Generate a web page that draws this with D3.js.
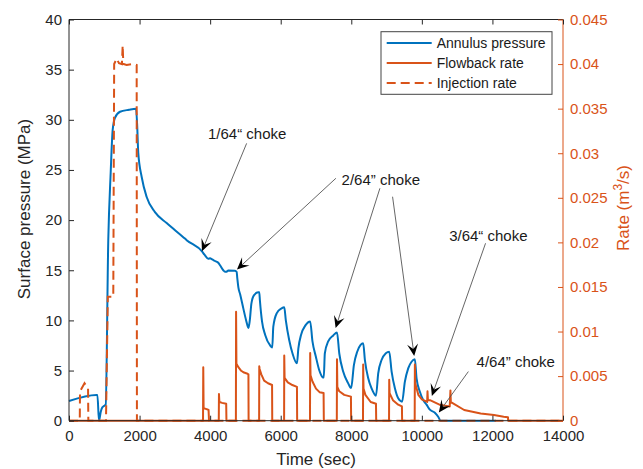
<!DOCTYPE html>
<html>
<head>
<meta charset="utf-8">
<script src="https://cdn.jsdelivr.net/npm/d3@7"></script>
<style>
  html, body { margin: 0; padding: 0; background: #fff; }
  svg { display: block; font-family: "Liberation Sans", Arial, Helvetica, sans-serif; }
</style>
</head>
<body>
<svg id="chart" width="643" height="469"></svg>
<script>
// ---- data: [time (s), value] ----
const annulusPressure = [
  [0,1.96],[780,2.56],[805,2.56],[850,0],[900,0.9],[945,1.33],[990,1.47],[1040,1.6],
  [1113,18],[1181,24.7],[1238,29],[1303,30.2],[1445,30.8],[1700,31.0],[1900,31.1],
  [1930,29.6],[1963,26.7],[2060,24.3],[2201,22.3],[2436,20.8],[2768,19.7],[3238,18.3],
  [3334,18.0],[3776,16.85],[3850,16.5],[3947,16.15],[4000,16.2],[4043,16.1],[4150,15.9],
  [4230,15.75],[4280,15.5],[4372,15.0],[4420,14.85],[4467,14.86],[4514,14.98],[4703,14.96],
  [4751,14.85],[4770,14.2],[4800,13.3],[4850,12.6],[4940,11.2],[5020,10.0],[5085,9.25],
  [5120,9.9],[5170,11.7],[5240,12.5],[5360,12.8],[5392,12.8],
  [5410,12.0],[5470,9.9],[5560,8.55],[5700,7.5],[5760,7.3],
  [5790,9.37],[5885,10.7],[6025,11.2],[6100,11.3],
  [6145,10.0],[6240,8.05],[6335,6.7],[6460,5.72],
  [6500,7.2],[6580,8.6],[6700,9.5],[6835,9.9],
  [6900,7.9],[6995,6.4],[7090,5.05],[7190,4.33],[7220,4.3],
  [7250,6.7],[7345,7.9],[7490,8.5],[7595,8.8],
  [7660,6.7],[7770,4.9],[7910,3.75],[7995,3.25],
  [8074,5.55],[8168,6.88],[8264,7.55],[8337,7.72],
  [8386,6.05],[8480,4.23],[8575,3.23],[8700,2.5],
  [8763,4.73],[8858,6.05],[8980,6.72],[9075,6.88],
  [9143,4.89],[9236,3.23],[9330,2.23],[9440,1.9],
  [9519,3.89],[9613,5.22],[9708,5.88],[9802,6.12],
  [9850,4.23],[9944,2.89],[10038,2.06],[10133,1.6],[10227,1.1],[10369,0.8],[10463,0.4],
  [10530,0],[12100,0]
];

const flowbackRate = [
  [0,0],[3798,0],[3805,0.0060],[3815,0.0014],[3900,0.0013],[3955,0.0012],[3968,0],
  [4245,0],[4250,0.0030],[4262,0.0021],[4340,0.0020],[4455,0.0019],[4462,0],
  [4730,0],[4735,0.01223],[4745,0.0064],[4800,0.0060],[4880,0.0056],[4960,0.0054],[5040,0.0053],[5085,0.0052],[5090,0],
  [5388,0],[5392,0.0061],[5402,0.0058],[5450,0.0052],[5530,0.0045],[5640,0.0042],[5755,0.0040],[5760,0],
  [6096,0],[6100,0.0073],[6110,0.0048],[6200,0.0043],[6330,0.0040],[6460,0.0038],[6466,0],
  [6830,0],[6835,0.0076],[6845,0.0051],[6900,0.0044],[7000,0.0036],[7100,0.0032],[7215,0.0031],[7222,0],
  [7590,0],[7595,0.0069],[7605,0.0038],[7660,0.0033],[7800,0.0029],[7990,0.0027],[7996,0],
  [8332,0],[8337,0.0063],[8347,0.0036],[8400,0.0029],[8550,0.0021],[8700,0.0019],[8706,0],
  [9070,0],[9075,0.0046],[9085,0.0031],[9180,0.0023],[9330,0.0018],[9435,0.0016],[9441,0],
  [9797,0],[9802,0.0063],[9812,0.0042],[9900,0.0029],[10000,0.0024],[10150,0.0021],
  [10160,0.0033],[10172,0.0023],[10230,0.0023],[10500,0.0018],[10790,0.0016],
  [10810,0.0034],[10822,0.0020],[10860,0.0020],[11200,0.0012],[11667,0.0008],
  [12044,0.00064],[12320,0.00045],[12440,0.0004],[12446,0],[14000,0]
];

const injectionRate = [
  [0,0],[305,0],[312,0.0033],[440,0.0042],[540,0.0036],[548,0],
  [1048,0],[1100,0.0139],[1255,0.0139],[1280,0.0400],[1350,0.0406],[1416,0.0401],
  [1500,0.0400],[1521,0.0421],[1540,0.0400],[1634,0.0399],[1775,0.0400],[1918,0.0399],
  [1925,0],[14000,0]
];

const timeTicks = [0,2000,4000,6000,8000,10000,12000,14000];
const pressureTicks = [0,5,10,15,20,25,30,35,40];
const rateTicks = [0,0.005,0.01,0.015,0.02,0.025,0.03,0.035,0.04,0.045];

const seriesNames = ["Annulus pressure","Flowback rate","Injection rate"];

// choke annotations: label anchor and arrows (tail -> tip) in (time, pressure)
const chokeLabels = ["1/64\u201C choke","2/64\u201D choke","3/64\u201C choke","4/64\u201D choke"];
const chokeLabelPos = [[3938,28.6],[7726,24.0],[10774,18.4],[11550,5.85]];
const chokeArrows = [
  [[5034,27.65],[3768,16.9]],
  [[7564,24.17],[4760,15.07]],
  [[8811,23.17],[7556,9.24]],
  [[9170,22.33],[9783,6.45]],
  [[11805,17.69],[10284,2.46]],
  [[11318,4.9],[10482,0.82]]
];

// ---- layout ----
const blue = "#0072BD", orange = "#D95319", axisColor = "#262626";
const svg = d3.select("#chart");
const plotLeft = 69, plotRight = 563, plotTop = 19.5, plotBottom = 420.7;

const x = d3.scaleLinear().domain([0,14000]).range([plotLeft,plotRight]);
const yP = d3.scaleLinear().domain([0,40]).range([plotBottom,plotTop]);
const yR = d3.scaleLinear().domain([0,0.045]).range([plotBottom,plotTop]);

const plot = svg.append("g");

const linePressure = d3.line().x(d => x(d[0])).y(d => yP(d[1])).curve(d3.curveMonotoneX);
const lineRate = d3.line().x(d => x(d[0])).y(d => yR(d[1]));

plot.append("path").datum(annulusPressure)
  .attr("d", linePressure).attr("fill","none")
  .attr("stroke", blue).attr("stroke-width",2).attr("stroke-linejoin","round");

plot.append("path").datum(flowbackRate)
  .attr("d", lineRate).attr("fill","none")
  .attr("stroke", orange).attr("stroke-width",2).attr("stroke-linejoin","round");

plot.append("path").datum(injectionRate)
  .attr("d", lineRate).attr("fill","none")
  .attr("stroke", orange).attr("stroke-width",2).attr("stroke-dasharray","9,5");

// ---- axes ----
const fontTick = "15px";
function styleAxis(g, color) {
  g.select(".domain").remove();
  g.selectAll(".tick line").attr("stroke", color);
  g.selectAll(".tick text").attr("fill", color).style("font-size", fontTick)
    .attr("font-family", null);
}

// frame
svg.append("line").attr("x1",plotLeft).attr("x2",plotRight).attr("y1",plotTop).attr("y2",plotTop)
  .attr("stroke",axisColor).attr("stroke-width",1);
svg.append("line").attr("x1",plotLeft).attr("x2",plotRight).attr("y1",plotBottom).attr("y2",plotBottom)
  .attr("stroke",axisColor).attr("stroke-width",1);
svg.append("line").attr("x1",plotLeft).attr("x2",plotLeft).attr("y1",plotTop).attr("y2",plotBottom)
  .attr("stroke",axisColor).attr("stroke-width",1);
svg.append("line").attr("x1",plotRight).attr("x2",plotRight).attr("y1",plotTop).attr("y2",plotBottom)
  .attr("stroke",orange).attr("stroke-width",1);

const xAxis = svg.append("g").attr("transform",`translate(0,${plotBottom})`)
  .call(d3.axisBottom(x).tickValues(timeTicks).tickFormat(d3.format("d"))
    .tickSizeInner(-5).tickSizeOuter(0).tickPadding(10));
styleAxis(xAxis, axisColor);

const xTop = svg.append("g").attr("transform",`translate(0,${plotTop})`)
  .call(d3.axisTop(x).tickValues(timeTicks).tickFormat("").tickSizeInner(-5).tickSizeOuter(0));
styleAxis(xTop, axisColor);

const yAxisL = svg.append("g").attr("transform",`translate(${plotLeft},0)`)
  .call(d3.axisLeft(yP).tickValues(pressureTicks).tickFormat(d3.format("d"))
    .tickSizeInner(-5).tickSizeOuter(0).tickPadding(7));
styleAxis(yAxisL, axisColor);

const yAxisR = svg.append("g").attr("transform",`translate(${plotRight},0)`)
  .call(d3.axisRight(yR).tickValues(rateTicks).tickFormat(d => d === 0 ? "0" : String(+d.toFixed(3)))
    .tickSizeInner(-5).tickSizeOuter(0).tickPadding(7));
styleAxis(yAxisR, orange);

// axis titles
svg.append("text").attr("x", (plotLeft+plotRight)/2).attr("y", 465)
  .attr("text-anchor","middle").attr("fill",axisColor).style("font-size","17px")
  .text("Time (sec)");

svg.append("text").attr("transform","translate(30,209) rotate(-90)")
  .attr("text-anchor","middle").attr("fill",axisColor).style("font-size","17px")
  .text("Surface pressure (MPa)");

const rt = svg.append("text").attr("transform","translate(629,208) rotate(-90)")
  .attr("text-anchor","middle").attr("fill",orange).style("font-size","17px");
rt.append("tspan").text("Rate (m");
rt.append("tspan").attr("dy",-7).style("font-size","12px").text("3");
rt.append("tspan").attr("dy",7).text("/s)");

// ---- annotations ----
const ann = svg.append("g");
chokeArrows.forEach(([tail, tip]) => {
  const x1 = x(tail[0]), y1 = yP(tail[1]), x2 = x(tip[0]), y2 = yP(tip[1]);
  const ang = Math.atan2(y2 - y1, x2 - x1);
  const len = 12, half = 5.5, notch = 7;
  const ux = Math.cos(ang), uy = Math.sin(ang);
  const bx = x2 - ux*len, by = y2 - uy*len;
  const nx = x2 - ux*notch, ny = y2 - uy*notch;
  ann.append("line").attr("x1",x1).attr("y1",y1).attr("x2",nx).attr("y2",ny)
    .attr("stroke","#555").attr("stroke-width",0.9);
  ann.append("path")
    .attr("d",`M${x2},${y2}L${bx - uy*half},${by + ux*half}L${nx},${ny}L${bx + uy*half},${by - ux*half}Z`)
    .attr("fill","#000");
});
chokeLabels.forEach((lab, i) => {
  ann.append("text").attr("x", x(chokeLabelPos[i][0])).attr("y", yP(chokeLabelPos[i][1]))
    .attr("dy","0.35em").attr("fill","#1a1a1a").style("font-size","15px").text(lab);
});

// ---- legend ----
const leg = svg.append("g");
leg.append("rect").attr("x",381).attr("y",31.7).attr("width",171).attr("height",62.6)
  .attr("fill","#fff").attr("stroke","#444").attr("stroke-width",1);
const legStyles = [
  {c: blue, dash: null},
  {c: orange, dash: null},
  {c: orange, dash: "9,5"}
];
seriesNames.forEach((name, i) => {
  const yy = 43 + i*20;
  leg.append("line").attr("x1",386.7).attr("x2",431.7).attr("y1",yy).attr("y2",yy)
    .attr("stroke",legStyles[i].c).attr("stroke-width",2)
    .attr("stroke-dasharray",legStyles[i].dash);
  leg.append("text").attr("x",436.7).attr("y",yy).attr("dy","0.35em")
    .attr("fill","#1a1a1a").style("font-size","14px").text(name);
});
</script>
</body>
</html>
